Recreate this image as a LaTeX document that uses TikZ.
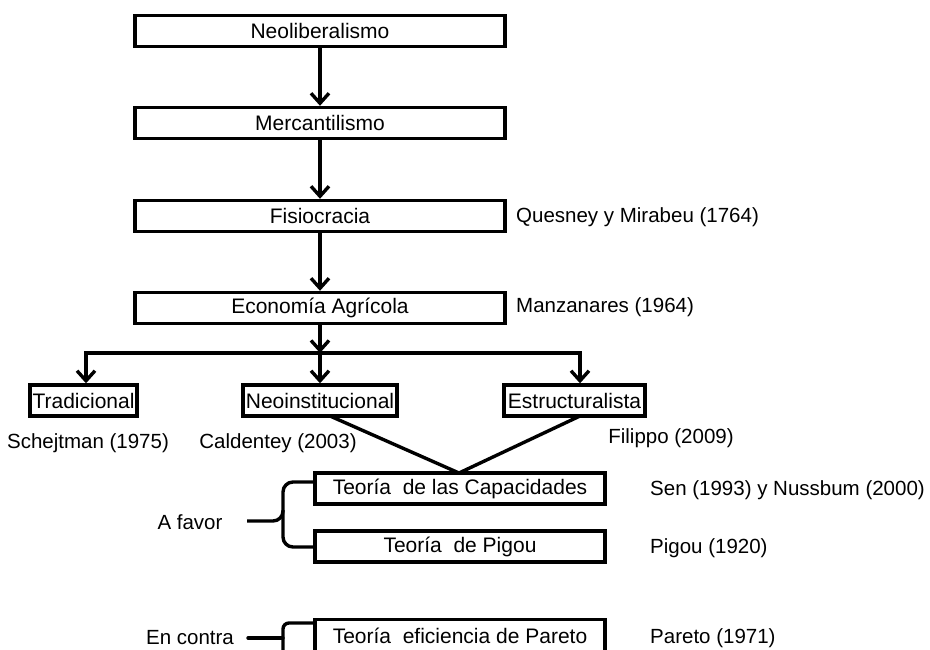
\documentclass[tikz,border=0pt]{standalone}
\usepackage{fontspec}
\setmainfont{Liberation Sans}
\usetikzlibrary{arrows.meta}
\begin{document}
\begin{tikzpicture}[x=1pt,y=-1pt,
  box/.style={draw, line width=3.4pt, inner sep=0pt, minimum height=31pt, font=\fontsize{21}{24}\selectfont},
  lbl/.style={font=\fontsize{20.5}{24}\selectfont, inner sep=0pt},
  conn/.style={line width=3.4pt},
  arr/.style={line width=3.4pt, -{Straight Barb[length=10pt,width=18pt]}},
  brc/.style={line width=3.4pt, rounded corners=10pt},
]
\useasboundingbox (0,0) rectangle (930,650);
% main chain
\node[box, minimum width=370pt] (neo) at (320,31) {Neoliberalismo};
\node[box, minimum width=370pt] (mer) at (320,123) {Mercantilismo};
\node[box, minimum width=370pt] (fis) at (320,216) {Fisiocracia};
\node[box, minimum width=370pt] (eco) at (320,308) {Economía Agrícola};
\node[lbl, anchor=west] (ques) at (516,217) {Quesney y Mirabeu (1764)};
\node[lbl, anchor=west] (manz) at (516,307) {Manzanares (1964)};
\draw[arr] (neo) -- (mer);
\draw[arr] (mer) -- (fis);
\draw[arr] (fis) -- (eco);
% branches
\coordinate (j) at (320,353);
\coordinate (jl) at (86,353);
\coordinate (jr) at (580,353);
\draw[arr] (eco) -- (j);
\draw[conn, line cap=rect] (jl) -- (jr);
\node[box, minimum width=107pt] (trad) at (83.5,400.5) {Tradicional};
\node[box, minimum width=154pt] (neoi) at (320,400.5) {Neoinstitucional};
\node[box, minimum width=141pt] (est) at (574.5,400.5) {Estructuralista};
\draw[arr] (jl) -- (jl |- trad.north);
\draw[arr] (j) -- (j |- neoi.north);
\draw[arr] (jr) -- (jr |- est.north);
\node[lbl] (sche) at (88,443) {Schejtman (1975)};
\node[lbl] (cald) at (278,443) {Caldentey (2003)};
\node[lbl] (fili) at (671,438) {Filippo (2009)};
% theories
\node[box, minimum width=290pt] (cap) at (460,488.5) {Teoría\ \ de las Capacidades};
\node[box, minimum width=290pt] (pig) at (460,546.5) {Teoría\ \ de Pigou};
\node[box, minimum width=290pt, minimum height=33pt] (par) at (460,636) {Teoría\ \ eficiencia de Pareto};
\coordinate (apex) at (459,473);
\draw[conn] (330,416) -- (apex) -- (580,416);
\node[lbl, anchor=west] (sen) at (650,490) {Sen (1993) y Nussbum (2000)};
\node[lbl, anchor=west] (pigr) at (650,548) {Pigou (1920)};
\node[lbl, anchor=west] (parr) at (650,638) {Pareto (1971)};
% A favor brace
\node[lbl] (afav) at (190,522) {A favor};
\draw[brc] (313,482) -- (283,482) -- (283,521) -- (247,521);
\draw[brc] (283,510) -- (283,547) -- (313,547);
% En contra bracket
\node[lbl] (enc) at (190,638) {En contra};
\draw[brc, rounded corners=6pt] (313,623) -- (283,623) -- (283,652);
\draw[conn, line cap=round] (248,638) -- (283,638);
\end{tikzpicture}
\end{document}
